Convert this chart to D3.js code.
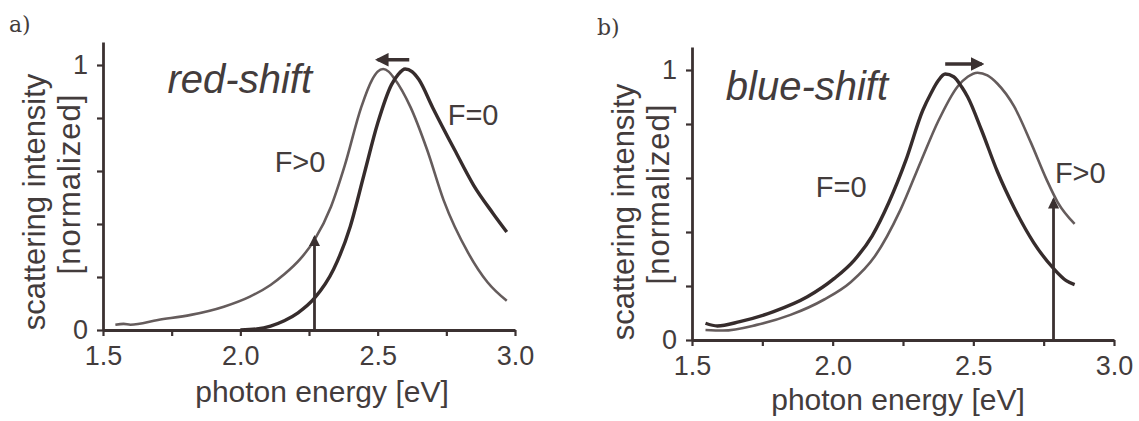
<!DOCTYPE html>
<html>
<head>
<meta charset="utf-8">
<script src="https://cdn.jsdelivr.net/npm/d3@7"></script>
<style>
  body { margin: 0; background: #fff; }
  svg { display: block; }
  text { font-family: "Liberation Sans", Arial, sans-serif; fill: #433c3c; }
</style>
</head>
<body>
<svg width="1139" height="421"></svg>
<script>
// Panel a) red-shift
const energyA_F0 = [2.00, 2.06, 2.11, 2.16, 2.21, 2.27, 2.34, 2.40, 2.45, 2.50, 2.55, 2.575, 2.60, 2.625, 2.65, 2.70, 2.78, 2.85, 2.92, 2.97];
const intensityA_F0 = [0, 0.004, 0.015, 0.035, 0.065, 0.12, 0.23, 0.39, 0.585, 0.78, 0.925, 0.965, 0.985, 0.975, 0.945, 0.84, 0.68, 0.545, 0.44, 0.37];
const energyA_F1 = [1.545, 1.575, 1.60, 1.70, 1.82, 1.94, 2.035, 2.11, 2.16, 2.22, 2.27, 2.33, 2.38, 2.44, 2.48, 2.50, 2.52, 2.54, 2.56, 2.62, 2.68, 2.74, 2.83, 2.90, 2.97];
const intensityA_F1 = [0.02, 0.023, 0.02, 0.038, 0.057, 0.088, 0.126, 0.17, 0.21, 0.27, 0.34, 0.465, 0.62, 0.84, 0.945, 0.975, 0.985, 0.975, 0.95, 0.84, 0.68, 0.49, 0.29, 0.18, 0.11];

// Panel b) blue-shift
const energyB_F0 = [1.548, 1.59, 1.67, 1.79, 1.91, 2.006, 2.077, 2.14, 2.20, 2.26, 2.32, 2.35, 2.375, 2.40, 2.43, 2.46, 2.48, 2.53, 2.585, 2.645, 2.715, 2.785, 2.83, 2.86];
const intensityB_F0 = [0.062, 0.052, 0.068, 0.105, 0.16, 0.228, 0.296, 0.385, 0.51, 0.665, 0.85, 0.915, 0.96, 0.985, 0.975, 0.935, 0.90, 0.775, 0.625, 0.49, 0.36, 0.265, 0.22, 0.205];
const energyB_F1 = [1.548, 1.61, 1.73, 1.85, 1.97, 2.065, 2.15, 2.24, 2.315, 2.375, 2.445, 2.48, 2.515, 2.55, 2.585, 2.645, 2.705, 2.76, 2.80, 2.86];
const intensityB_F1 = [0.037, 0.035, 0.056, 0.093, 0.15, 0.215, 0.31, 0.48, 0.665, 0.81, 0.94, 0.975, 0.99, 0.98, 0.95, 0.865, 0.73, 0.595, 0.51, 0.43];

// axes
const xTicks = [1.5, 1.75, 2.0, 2.25, 2.5, 2.75, 3.0];
const yTicks = [0, 0.2, 0.4, 0.6, 0.8, 1];
const xLabel = "photon energy [eV]";
const yLabel1 = "scattering intensity";
const yLabel2 = "[normalized]";

// annotations: [energy, intensity]
const annotA = { title: "red-shift", titleAt: [1.735, 0.893], f0At: [2.755, 0.775], f1At: [2.125, 0.598],
                 probe: 2.27, probeTop: 0.35, shift: [2.615, 2.50], shiftY: 1.02 };
const annotB = { title: "blue-shift", titleAt: [1.62, 0.889], f0At: [1.94, 0.53], f1At: [2.79, 0.58],
                 probe: 2.785, probeTop: 0.52, shift: [2.40, 2.53], shiftY: 1.022 };

const svg = d3.select("svg");
const axisColor = "#3b3131";

const defs = svg.append("defs");
defs.append("marker")
    .attr("id", "head")
    .attr("viewBox", "0 0 10 10")
    .attr("refX", 8).attr("refY", 5)
    .attr("markerWidth", 4).attr("markerHeight", 4)
    .attr("orient", "auto")
    .append("path")
    .attr("d", "M0,0 L10,5 L0,10 z")
    .attr("fill", axisColor);

function drawPanel(opts) {

    const x = d3.scaleLinear().domain([1.5, 3.0]).range([opts.left, opts.right]);
    const y = d3.scaleLinear().domain([0, 1]).range([opts.bottom, opts.one]);
    const yTop = y.invert(opts.top);
    const g = svg.append("g");

    // axes
    const xAxis = d3.axisBottom(x)
        .tickValues(xTicks)
        .tickSize(6)
        .tickSizeOuter(0)
        .tickPadding(10)
        .tickFormat(d => (d * 2) % 1 === 0 ? d.toFixed(1) : "");
    const yAxis = d3.axisLeft(y.copy().domain([0, yTop]).range([opts.bottom, opts.top]))
        .tickValues(yTicks)
        .tickSize(6)
        .tickSizeOuter(0)
        .tickPadding(9)
        .tickFormat(d => (d === 0 || d === 1) ? d3.format("d")(d) : "");

    const gx = g.append("g").attr("transform", `translate(0,${opts.bottom})`).call(xAxis);
    const gy = g.append("g").attr("transform", `translate(${opts.left},0)`).call(yAxis);
    [gx, gy].forEach(a => {
        a.select(".domain").attr("stroke", axisColor).attr("stroke-width", 2.8);
        a.selectAll(".tick line").attr("stroke", axisColor).attr("stroke-width", 2.2);
        a.selectAll(".tick text").attr("fill", "#433c3c").style("font-size", "27px")
            .style("font-family", "'Liberation Sans', Arial, sans-serif");
    });

    // axis titles
    g.append("text")
        .attr("x", opts.xTitleAt[0])
        .attr("y", opts.xTitleAt[1])
        .attr("text-anchor", "middle")
        .style("font-size", "30px")
        .text(xLabel);
    g.append("text")
        .attr("transform", `translate(${opts.left - 58},${opts.bottom - 128}) rotate(-90)`)
        .attr("text-anchor", "middle")
        .style("font-size", "31px")
        .text(yLabel1);
    g.append("text")
        .attr("transform", `translate(${opts.left - 23},${opts.bottom - 146}) rotate(-90)`)
        .attr("text-anchor", "middle")
        .style("font-size", "31px")
        .style("letter-spacing", "1px")
        .text(yLabel2);

    // curves
    const line = d3.line()
        .x(d => x(d[0]))
        .y(d => y(d[1]))
        .curve(d3.curveMonotoneX);

    g.append("path")
        .datum(d3.zip(opts.e1, opts.i1))
        .attr("d", line)
        .attr("fill", "none")
        .attr("stroke", "#655c5c")
        .attr("stroke-width", 2.6);
    g.append("path")
        .datum(d3.zip(opts.e0, opts.i0))
        .attr("d", line)
        .attr("fill", "none")
        .attr("stroke", "#362c2c")
        .attr("stroke-width", 3.4);

    const a = opts.annot;

    // probe arrow
    g.append("line")
        .attr("x1", x(a.probe)).attr("x2", x(a.probe))
        .attr("y1", y(0)).attr("y2", y(a.probeTop))
        .attr("stroke", axisColor)
        .attr("stroke-width", 2.8)
        .attr("marker-end", "url(#head)");

    // shift arrow
    g.append("line")
        .attr("x1", x(a.shift[0])).attr("x2", x(a.shift[1]))
        .attr("y1", y(a.shiftY)).attr("y2", y(a.shiftY))
        .attr("stroke", axisColor)
        .attr("stroke-width", 3.4)
        .attr("marker-end", "url(#head)");

    // labels
    g.append("text")
        .attr("x", x(a.titleAt[0])).attr("y", y(a.titleAt[1]))
        .style("font-size", "40px")
        .style("font-style", "italic")
        .text(a.title);
    g.append("text")
        .attr("x", x(a.f0At[0])).attr("y", y(a.f0At[1]))
        .style("font-size", "29px")
        .text("F=0");
    g.append("text")
        .attr("x", x(a.f1At[0])).attr("y", y(a.f1At[1]))
        .style("font-size", "29px")
        .text("F>0");

    // panel letter
    g.append("text")
        .attr("x", opts.letterAt[0]).attr("y", opts.letterAt[1])
        .style("font-family", "'DejaVu Serif', 'Liberation Serif', serif")
        .style("font-size", "22px")
        .attr("fill", "#3f3838")
        .text(opts.letter);
}

drawPanel({
    left: 103, right: 515, bottom: 330, one: 65, top: 42,
    e0: energyA_F0, i0: intensityA_F0, e1: energyA_F1, i1: intensityA_F1,
    annot: annotA, letter: "a)", letterAt: [9, 32], xTitleAt: [322, 402]
});
drawPanel({
    left: 692, right: 1114, bottom: 340, one: 70, top: 47,
    e0: energyB_F0, i0: intensityB_F0, e1: energyB_F1, i1: intensityB_F1,
    annot: annotB, letter: "b)", letterAt: [597, 35], xTitleAt: [898, 410]
});
</script>
</body>
</html>
